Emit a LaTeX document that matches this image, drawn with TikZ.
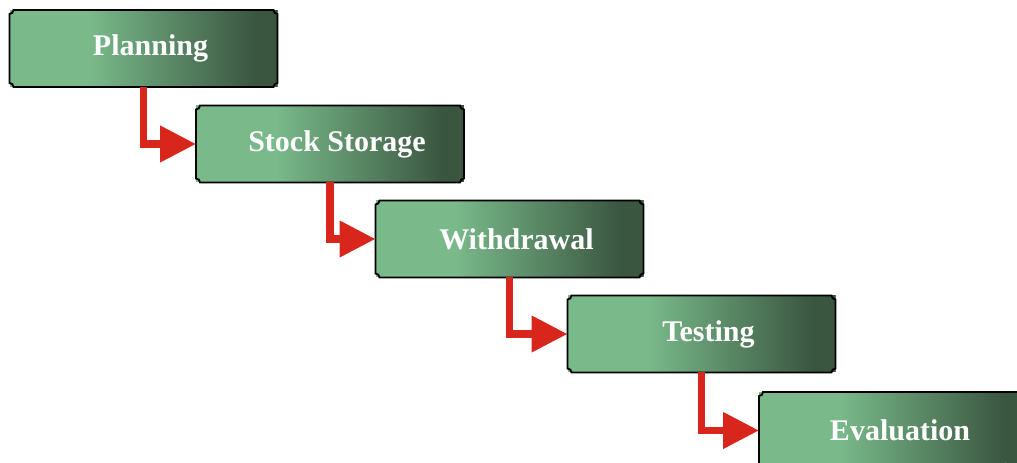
\documentclass[tikz,border=0pt]{standalone}
\usepackage{fontspec}
\setmainfont{Liberation Serif}
\usetikzlibrary{arrows.meta,calc}
\definecolor{lg}{HTML}{79B98A}
\definecolor{dg}{HTML}{3A5540}
\definecolor{ar}{HTML}{D9261C}
\newcommand\cvbox[1]{%
  \draw[line width=1.9pt,black]
    ([xshift=4pt]#1.north west) -- ([xshift=-4pt]#1.north east)
    arc[start angle=180,end angle=270,radius=4pt]
    -- ([yshift=4pt]#1.south east)
    arc[start angle=90,end angle=180,radius=4pt]
    -- ([xshift=4pt]#1.south west)
    arc[start angle=0,end angle=90,radius=4pt]
    -- ([yshift=-4pt]#1.north west)
    arc[start angle=270,end angle=360,radius=4pt] -- cycle;}
\tikzset{
  stage/.style={rectangle, fill=lg, minimum width=268pt, minimum height=77pt,
    inner sep=0pt, outer sep=0pt, text=white, font=\fontsize{30pt}{36pt}\selectfont\bfseries,
    path picture={
      \coordinate (ppa) at ($(path picture bounding box.south west)!0.30!(path picture bounding box.south east)$);
      \coordinate (ppb) at ($(path picture bounding box.north west)!0.92!(path picture bounding box.north east)$);
      \shade[left color=lg, right color=dg] (ppa) rectangle (ppb);
      \fill[dg] (ppb |- path picture bounding box.south) rectangle (path picture bounding box.north east);
    }},
  flow/.style={ar, line width=7.5pt, -{Triangle[length=36pt,width=35pt]}}
}
\begin{document}
\begin{tikzpicture}[x=1pt,y=1pt]
\useasboundingbox (0,0) rectangle (1017,463);
\clip (0,0) rectangle (1017,463);
\node[stage] (p) at (143.5,414.5) {\hspace*{14pt}Planning};
\node[stage] (s) at (330,319) {\hspace*{14pt}Stock Storage};
\node[stage] (w) at (509.5,224) {\hspace*{14pt}Withdrawal};
\node[stage] (t) at (701.5,129) {\hspace*{14pt}Testing};
\node[stage] (e) at (893,32.5) {\hspace*{14pt}Evaluation};
\cvbox{p}\cvbox{s}\cvbox{w}\cvbox{t}\cvbox{e}
\draw[flow] (p.south) |- (s.west);
\draw[flow] (s.south) |- (w.west);
\draw[flow] (w.south) |- (t.west);
\draw[flow] (t.south) |- (e.west);
\end{tikzpicture}
\end{document}
